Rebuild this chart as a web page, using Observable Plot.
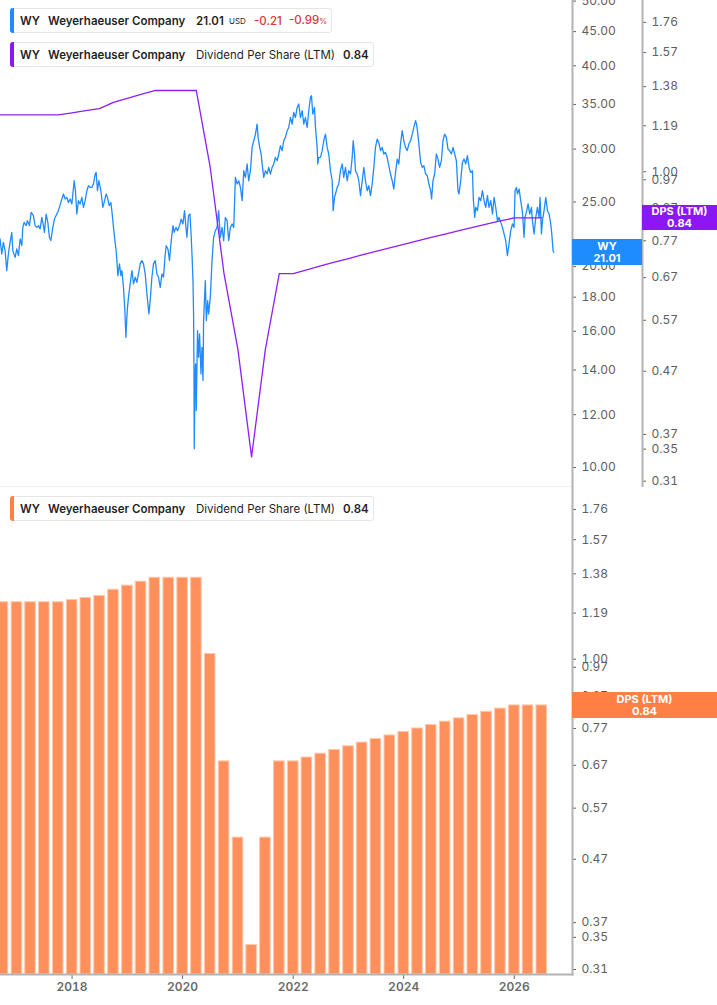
<!DOCTYPE html>
<html>
<head>
<meta charset="utf-8">
<script src="https://cdn.jsdelivr.net/npm/d3@7"></script>
<script src="https://cdn.jsdelivr.net/npm/@observablehq/plot@0.6"></script>
<style>
  body { margin: 0; background: #fff; font-family: Inter, "Noto Sans", sans-serif; }
  #wrap { position: relative; width: 717px; height: 1005px; overflow: hidden; background: #fff; }
  .layer { position: absolute; left: 0; }
  .leg { position: absolute; left: 10px; height: 25px; border: 1px solid #e6e6e6; border-radius: 3px;
         background: rgba(255,255,255,0.95); box-sizing: border-box; font-size: 11.5px; color: #1f1f1f; }
  .leg .cb { position: absolute; left: -1px; top: -1px; bottom: -1px; width: 4px; border-radius: 3px 0 0 3px; }
  .leg span { position: absolute; top: 50%; transform: translateY(-52%); white-space: nowrap; line-height: 14px; }
  .leg .b { font-weight: 600; }
  .leg .red { color: #d93838; font-weight: 500; }
  .leg small { font-size: 8px; }
  .badge { position: absolute; color: #fff; font-weight: 700; font-size: 11px; line-height: 12px;
           text-align: center; display: flex; flex-direction: column; justify-content: center; font-family: Inter, sans-serif; }
</style>
</head>
<body>
<div id="wrap"></div>
<script>
// ---------------- data ----------------
const ticker = "WY";
const company = "Weyerhaeuser Company";
const lastPrice = 21.01;
const priceChange = "-0.21";
const priceChangePct = "-0.99";
const lastDps = 0.84;

// Share price (decimal year, USD)
const priceHistory = [
  [2016.697,22.00],[2016.728,20.89],[2016.757,21.75],[2016.788,21.13],[2016.818,19.73],[2016.847,20.89],[2016.878,21.75],[2016.909,22.51],[2016.927,21.13],[2016.969,20.65],
  [2016.999,21.26],[2017.029,20.77],[2017.059,22.00],[2017.090,21.50],[2017.108,22.90],[2017.132,23.30],[2017.168,23.04],[2017.192,23.44],[2017.228,23.04],[2017.259,24.12],
  [2017.300,23.85],[2017.331,23.04],[2017.362,22.90],[2017.391,23.04],[2017.422,22.78],[2017.452,23.70],[2017.481,23.04],[2017.500,22.51],[2017.530,23.98],[2017.561,23.30],
  [2017.590,22.13],[2017.615,21.88],[2017.652,22.90],[2017.681,23.57],[2017.724,23.98],[2017.753,24.26],[2017.797,24.96],[2017.844,25.70],[2017.875,25.26],[2017.905,25.40],
  [2017.934,24.96],[2017.965,25.26],[2017.996,24.83],[2018.038,26.90],[2018.061,25.99],[2018.086,23.98],[2018.115,25.11],[2018.146,24.83],[2018.177,25.40],[2018.206,24.54],
  [2018.237,25.11],[2018.268,25.99],[2018.297,26.44],[2018.327,26.29],[2018.358,26.29],[2018.387,26.60],[2018.418,27.53],[2018.436,27.68],[2018.460,25.99],[2018.485,26.90],
  [2018.521,25.99],[2018.558,24.54],[2018.581,24.96],[2018.617,25.70],[2018.641,25.40],[2018.672,24.68],[2018.702,24.96],[2018.720,24.26],[2018.750,22.90],[2018.775,21.88],
  [2018.798,21.13],[2018.811,20.42],[2018.829,19.39],[2018.858,20.19],[2018.884,19.39],[2018.902,19.73],[2018.931,18.62],[2018.956,17.18],[2018.974,15.67],[2018.998,17.18],
  [2019.021,17.99],[2019.052,18.84],[2019.083,19.73],[2019.112,18.84],[2019.143,19.28],[2019.173,18.95],[2019.202,19.50],[2019.233,20.19],[2019.264,20.42],[2019.293,20.19],
  [2019.324,19.50],[2019.355,18.20],[2019.391,16.99],[2019.414,17.79],[2019.445,19.28],[2019.474,20.19],[2019.505,20.42],[2019.536,19.50],[2019.565,19.28],[2019.596,18.62],
  [2019.626,19.50],[2019.655,19.28],[2019.681,20.65],[2019.704,21.50],[2019.735,21.26],[2019.764,20.42],[2019.789,21.63],[2019.826,23.04],[2019.849,22.51],[2019.880,22.90],
  [2019.909,22.64],[2019.945,23.04],[2019.976,23.57],[2020.007,23.17],[2020.036,24.26],[2020.061,22.90],[2020.079,22.13],[2020.108,23.85],[2020.134,23.98],[2020.157,22.13],
  [2020.175,20.42],[2020.188,19.06],[2020.199,16.99],[2020.206,14.30],[2020.211,10.67],[2020.224,13.50],[2020.235,14.30],[2020.248,12.17],[2020.260,14.30],[2020.271,16.04],
  [2020.289,14.63],[2020.307,15.86],[2020.333,13.81],[2020.351,15.14],[2020.369,13.50],[2020.380,16.60],[2020.411,19.06],[2020.429,16.60],[2020.453,17.79],[2020.471,16.99],
  [2020.501,17.99],[2020.532,20.42],[2020.561,22.13],[2020.592,22.64],[2020.623,22.90],[2020.652,24.26],[2020.682,22.13],[2020.713,22.90],[2020.742,21.88],[2020.773,23.70],
  [2020.804,23.44],[2020.833,21.88],[2020.864,22.90],[2020.895,23.17],[2020.924,22.90],[2020.954,27.21],[2020.985,26.60],[2021.014,26.90],[2021.045,26.29],[2021.076,25.11],
  [2021.105,27.85],[2021.135,27.21],[2021.166,28.50],[2021.195,26.90],[2021.226,27.85],[2021.257,30.18],[2021.286,30.88],[2021.317,31.60],[2021.347,32.71],[2021.365,31.24],
  [2021.394,30.18],[2021.420,29.50],[2021.438,28.50],[2021.467,27.21],[2021.498,27.85],[2021.528,27.53],[2021.557,28.17],[2021.588,27.53],[2021.619,28.17],[2021.648,28.50],
  [2021.679,29.15],[2021.710,28.82],[2021.739,29.50],[2021.769,30.35],[2021.800,29.84],[2021.829,30.88],[2021.860,31.24],[2021.891,31.97],[2021.920,32.33],[2021.951,33.46],
  [2021.981,32.71],[2022.010,34.05],[2022.041,33.46],[2022.072,34.64],[2022.101,35.05],[2022.132,33.46],[2022.163,34.25],[2022.192,32.71],[2022.222,33.46],[2022.253,32.33],
  [2022.282,34.25],[2022.313,35.86],[2022.331,36.07],[2022.355,33.86],[2022.386,34.64],[2022.404,32.33],[2022.434,30.18],[2022.445,28.50],[2022.463,29.15],[2022.494,29.15],
  [2022.525,29.84],[2022.554,30.88],[2022.585,31.60],[2022.615,30.18],[2022.644,29.50],[2022.675,27.85],[2022.706,26.90],[2022.724,24.26],[2022.748,25.40],[2022.766,25.70],
  [2022.797,26.29],[2022.826,26.60],[2022.856,27.85],[2022.887,28.50],[2022.916,27.21],[2022.947,28.17],[2022.978,26.90],[2023.007,27.85],[2023.038,27.53],[2023.068,29.15],
  [2023.087,30.88],[2023.110,29.50],[2023.128,27.85],[2023.159,27.53],[2023.188,26.90],[2023.219,25.55],[2023.250,26.90],[2023.279,28.17],[2023.309,26.90],[2023.340,25.99],
  [2023.369,26.44],[2023.400,25.55],[2023.430,26.60],[2023.460,28.17],[2023.490,30.18],[2023.521,31.06],[2023.550,30.70],[2023.581,29.84],[2023.612,30.18],[2023.641,29.50],
  [2023.672,29.67],[2023.702,29.15],[2023.731,28.33],[2023.762,27.53],[2023.793,26.90],[2023.822,26.14],[2023.853,27.68],[2023.884,28.99],[2023.913,28.50],[2023.943,30.53],
  [2023.974,31.97],[2024.003,30.88],[2024.034,30.18],[2024.065,29.84],[2024.094,30.53],[2024.125,30.88],[2024.155,31.60],[2024.184,32.33],[2024.215,33.09],[2024.233,32.71],
  [2024.257,31.60],[2024.275,30.53],[2024.306,28.66],[2024.336,28.17],[2024.365,28.33],[2024.396,27.53],[2024.427,27.37],[2024.456,26.60],[2024.487,25.99],[2024.505,25.26],
  [2024.529,26.90],[2024.560,27.53],[2024.590,29.50],[2024.619,28.99],[2024.650,28.17],[2024.681,28.82],[2024.710,30.88],[2024.740,31.60],[2024.771,31.24],[2024.800,30.01],
  [2024.831,29.84],[2024.862,29.50],[2024.891,30.18],[2024.922,29.50],[2024.952,28.82],[2024.981,25.99],[2024.999,25.70],[2025.030,26.90],[2025.061,28.66],[2025.090,28.99],
  [2025.121,28.50],[2025.152,29.33],[2025.181,28.17],[2025.211,27.68],[2025.242,27.85],[2025.260,25.11],[2025.284,23.70],[2025.302,24.54],[2025.333,24.26],[2025.362,25.40],
  [2025.393,25.11],[2025.424,25.99],[2025.453,25.11],[2025.483,24.54],[2025.514,25.55],[2025.543,24.54],[2025.574,25.11],[2025.605,23.98],[2025.634,25.40],[2025.664,24.54],
  [2025.695,23.44],[2025.724,23.70],[2025.755,23.30],[2025.786,22.90],[2025.815,22.39],[2025.845,21.88],[2025.876,20.77],[2025.905,21.63],[2025.936,22.64],[2025.967,23.17],
  [2025.996,22.90],[2026.014,25.99],[2026.039,26.29],[2026.057,25.70],[2026.087,26.14],[2026.117,25.11],[2026.148,24.12],[2026.177,22.13],[2026.195,23.70],[2026.226,24.26],
  [2026.249,24.83],[2026.280,23.98],[2026.311,24.54],[2026.329,23.44],[2026.358,22.39],[2026.389,23.70],[2026.419,24.54],[2026.449,23.70],[2026.467,25.40],[2026.492,22.39],
  [2026.510,23.44],[2026.539,24.26],[2026.570,25.40],[2026.601,24.26],[2026.630,23.98],[2026.661,23.17],[2026.679,22.39],[2026.702,21.13],[2026.715,21.01]
];

// Dividend per share (LTM), quarterly
const dpsDates = [
  "2016-07-01","2016-10-01","2017-01-01","2017-04-01","2017-07-01","2017-10-01",
  "2018-01-01","2018-04-01","2018-07-01","2018-10-01","2019-01-01","2019-04-01",
  "2019-07-01","2019-10-01","2020-01-01","2020-04-01","2020-07-01","2020-10-01",
  "2021-01-01","2021-04-01","2021-07-01","2021-10-01","2022-01-01","2022-04-01",
  "2022-07-01","2022-10-01","2023-01-01","2023-04-01","2023-07-01","2023-10-01",
  "2024-01-01","2024-04-01","2024-07-01","2024-10-01","2025-01-01","2025-04-01",
  "2025-07-01","2025-10-01","2026-01-01","2026-04-01","2026-07-01"
];
const dpsValues = [
  1.24,1.24,1.24,1.24,1.24,1.24,
  1.25,1.26,1.27,1.30,1.32,1.34,
  1.36,1.36,1.36,1.36,1.02,0.68,
  0.51,0.34,0.51,0.68,0.68,0.69,
  0.70,0.71,0.72,0.73,0.74,0.75,
  0.76,0.77,0.78,0.79,0.80,0.81,
  0.82,0.83,0.84,0.84,0.84
];

const priceTicks = [10, 12, 14, 16, 18, 20, 25, 30, 35, 40, 45, 50];
const dpsTicks = [0.31, 0.35, 0.37, 0.47, 0.57, 0.67, 0.77, 0.87, 0.97, 1.00, 1.19, 1.38, 1.57, 1.76];
const yearTickStep = 2;

// ---------------- helpers ----------------
function yearToDate(y) {
  const yr = Math.floor(y);
  const a = Date.UTC(yr, 0, 1), b = Date.UTC(yr + 1, 0, 1);
  return new Date(a + (y - yr) * (b - a));
}
const priceRows = priceHistory.map(([t, p]) => ({date: yearToDate(t), price: p}));
const dpsRows = dpsDates.map((d, i) => ({date: new Date(d + "T00:00:00Z"), dps: dpsValues[i]}));

// ---------------- layout ----------------
const W = 717;
const topH = 487, botH = 518;
const plotRightMargin = 145;
const xDomain = [yearToDate(2016.705), yearToDate(2027.054)];
const priceDomain = [9.334, 50.1];
const dpsTopDomain = [0.3027, 1.912];
const dpsBotDomain = [0.3042, 1.912];
const axisColor = "#b3b3b3";
const labelColor = "#5e5e5e";
const svgStyle = {fontFamily: "Inter, 'Noto Sans', sans-serif", fontSize: "12px", background: "transparent"};
const fmt2 = d3.format(".2f");

const wrap = document.getElementById("wrap");

const topChart = Plot.plot({
  width: W, height: topH,
  marginTop: 0, marginBottom: 0, marginLeft: 0, marginRight: plotRightMargin,
  style: svgStyle,
  x: {type: "utc", domain: xDomain, axis: null},
  y: {type: "log", domain: priceDomain},
  marks: [
    Plot.frame({anchor: "bottom", stroke: "#e1e1e1", strokeWidth: 2}),
    Plot.line(priceRows, {x: "date", y: "price", stroke: "#1f8bff", strokeWidth: 1.3, clip: true}),
    Plot.axisY({anchor: "right", label: null, ticks: priceTicks, tickFormat: fmt2, tickSize: 3, tickPadding: 6,
                fontSize: 12, color: labelColor}),
    Plot.frame({anchor: "right", stroke: axisColor, strokeWidth: 2})
  ]
});

const dpsTopChart = Plot.plot({
  width: W, height: topH,
  marginTop: 0, marginBottom: 0, marginLeft: 0, marginRight: plotRightMargin,
  style: svgStyle,
  x: {type: "utc", domain: xDomain, axis: null},
  y: {type: "log", domain: dpsTopDomain},
  marks: [
    Plot.line(dpsRows, {x: "date", y: "dps", stroke: "#8d1ff5", strokeWidth: 1.3}),
    Plot.axisY({anchor: "right", label: null, dx: 70, ticks: dpsTicks, tickFormat: fmt2, tickSize: 3, tickPadding: 6,
                fontSize: 12, color: labelColor}),
    Plot.frame({anchor: "right", dx: 70, stroke: axisColor, strokeWidth: 2})
  ]
});

const botChart = Plot.plot({
  width: W, height: botH,
  marginTop: 0, marginBottom: 31, marginLeft: 0, marginRight: plotRightMargin,
  style: svgStyle,
  x: {type: "utc", domain: xDomain},
  y: {type: "log", domain: dpsBotDomain},
  marks: [
    Plot.rect(dpsRows, {
      x1: d => d3.utcDay.offset(d.date, -45), x2: d => d3.utcDay.offset(d.date, 46),
      y1: () => dpsBotDomain[0], y2: "dps",
      fill: "#ff905c", stroke: "#ffc8ac", strokeWidth: 1, insetLeft: 1.6, insetRight: 1.6, clip: true
    }),
    Plot.axisX({label: null, ticks: d3.utcYear.every(yearTickStep), tickFormat: "%Y", tickSize: 5, tickPadding: 3,
                fontSize: 12, fontWeight: 600, color: "#6a6a6a"}),
    Plot.axisY({anchor: "right", label: null, ticks: dpsTicks, tickFormat: fmt2, tickSize: 3, tickPadding: 6,
                fontSize: 12, color: labelColor}),
    Plot.frame({anchor: "bottom", stroke: axisColor, strokeWidth: 2}),
    Plot.frame({anchor: "right", stroke: axisColor, strokeWidth: 2})
  ]
});

function place(el, top) {
  el.classList.add("layer");
  el.style.top = top + "px";
  wrap.appendChild(el);
}
place(topChart, 0);
place(dpsTopChart, 0);
place(botChart, topH);

function yOf(chart, v, domain, h, mb) {
  const s = chart.scale("y");
  if (s && typeof s.apply === "function") return s.apply(v);
  return d3.scaleLog().domain(domain).range([h - mb, 0])(v);
}

// ---------------- badges ----------------
function badge(left, width, height, centerY, bg, line1, line2) {
  const b = document.createElement("div");
  b.className = "badge";
  b.style.left = left + "px";
  b.style.width = width + "px";
  b.style.height = height + "px";
  b.style.top = (centerY - height / 2) + "px";
  b.style.background = bg;
  b.innerHTML = `<div>${line1}</div><div>${line2}</div>`;
  wrap.appendChild(b);
}
const axisX0 = W - plotRightMargin;
badge(axisX0, 70, 26, yOf(topChart, lastPrice, priceDomain, topH, 0), "#1e8cff", ticker, fmt2(lastPrice));
badge(axisX0 + 70, 75, 25, yOf(dpsTopChart, lastDps, dpsTopDomain, topH, 0), "#8c17f5", "DPS (LTM)", fmt2(lastDps));
badge(axisX0, plotRightMargin, 26, topH + yOf(botChart, lastDps, dpsBotDomain, botH, 31), "#ff7f45", "DPS (LTM)", fmt2(lastDps));

// ---------------- legends ----------------
function legend(top, width, color, parts) {
  const box = document.createElement("div");
  box.className = "leg";
  box.style.top = top + "px";
  box.style.width = width + "px";
  box.innerHTML = `<div class="cb" style="background:${color}"></div>` +
    parts.map(([x, cls, html]) => `<span class="${cls}" style="left:${x}px">${html}</span>`).join("");
  wrap.appendChild(box);
}
legend(8, 322, "#1e8cff", [
  [9, "b", ticker], [37, "b", company], [185, "b", fmt2(lastPrice)],
  [218, "", "<small>USD</small>"], [243, "red", priceChange], [278, "red", priceChangePct + "<small>%</small>"]
]);
legend(42, 364, "#8c17f5", [
  [9, "b", ticker], [37, "b", company], [185, "", "Dividend Per Share (LTM)"], [332, "b", fmt2(lastDps)]
]);
legend(496, 364, "#ff7f45", [
  [9, "b", ticker], [37, "b", company], [185, "", "Dividend Per Share (LTM)"], [332, "b", fmt2(lastDps)]
]);
</script>
</body>
</html>
